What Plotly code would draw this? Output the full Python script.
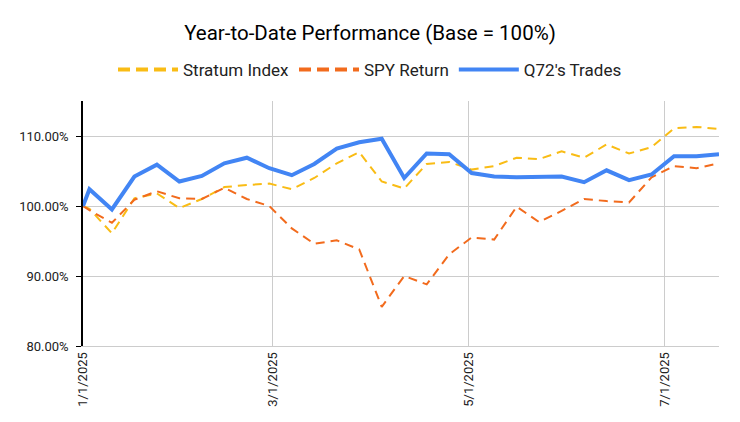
import plotly.graph_objects as go

dates = ["2025-01-01", "2025-01-03", "2025-01-10", "2025-01-17", "2025-01-24", "2025-01-31",
         "2025-02-07", "2025-02-14", "2025-02-21", "2025-02-28", "2025-03-07", "2025-03-14",
         "2025-03-21", "2025-03-28", "2025-04-04", "2025-04-11", "2025-04-18", "2025-04-25",
         "2025-05-02", "2025-05-09", "2025-05-16", "2025-05-23", "2025-05-30", "2025-06-06",
         "2025-06-13", "2025-06-20", "2025-06-27", "2025-07-04", "2025-07-11", "2025-07-18"]

stratum_index = [100.0, 99.6, 96.1, 101.1, 101.8, 99.7, 101.0, 102.7, 103.0, 103.2,
                 102.4, 104.0, 106.1, 107.7, 103.5, 102.5, 106.0, 106.3, 105.2, 105.7,
                 106.9, 106.7, 107.8, 106.9, 108.8, 107.5, 108.4, 111.1, 111.3, 111.0]

spy_return = [100.0, 99.4, 97.6, 100.9, 102.1, 101.1, 101.0, 102.6, 101.0, 100.0,
              96.8, 94.6, 95.1, 93.8, 85.6, 90.0, 88.8, 93.1, 95.5, 95.2,
              99.9, 97.7, 99.3, 101.0, 100.7, 100.5, 104.1, 105.7, 105.4, 106.1]

q72_trades = [100.0, 102.4, 99.5, 104.2, 105.9, 103.5, 104.3, 106.1, 106.9, 105.4,
              104.4, 106.0, 108.2, 109.1, 109.6, 104.0, 107.5, 107.4, 104.7, 104.2,
              104.1, 104.2, 104.2, 103.4, 105.1, 103.7, 104.5, 107.1, 107.1, 107.4]

series_names = ["Stratum Index", "SPY Return", "Q72's Trades"]
y_ticks = [80, 90, 100, 110]
y_tick_labels = ["80.00%", "90.00%", "100.00%", "110.00%"]
x_ticks = ["2025-01-01", "2025-03-01", "2025-05-01", "2025-07-01"]
x_tick_labels = ["1/1/2025", "3/1/2025", "5/1/2025", "7/1/2025"]

FONT = "Roboto, Arial, sans-serif"
YELLOW = "#F9BC15"
ORANGE = "#F26B1D"
BLUE = "#4285F4"

fig = go.Figure()
# data lines
fig.add_trace(go.Scatter(x=dates, y=stratum_index, name=series_names[0], mode="lines",
                         showlegend=False,
                         line=dict(color=YELLOW, width=2, dash="9px,6px")))
fig.add_trace(go.Scatter(x=dates, y=spy_return, name=series_names[1], mode="lines",
                         showlegend=False,
                         line=dict(color=ORANGE, width=2, dash="9px,6px")))
fig.add_trace(go.Scatter(x=dates, y=q72_trades, name=series_names[2], mode="lines",
                         showlegend=False,
                         line=dict(color=BLUE, width=4)))
# legend entries (thicker key strokes, as in the reference)
fig.add_trace(go.Scatter(x=[None], y=[None], name=series_names[0], mode="lines",
                         line=dict(color=YELLOW, width=4, dash="12px,6px")))
fig.add_trace(go.Scatter(x=[None], y=[None], name=series_names[1], mode="lines",
                         line=dict(color=ORANGE, width=4, dash="12px,6px")))
fig.add_trace(go.Scatter(x=[None], y=[None], name=series_names[2], mode="lines",
                         line=dict(color=BLUE, width=4)))

# the page adds an 8px body margin, so margins are offset by 8px
fig.update_layout(
    width=740, height=422,
    margin=dict(l=75, r=29, t=93, b=84),
    paper_bgcolor="white", plot_bgcolor="white",
    title=dict(text="Year-to-Date Performance (Base = 100%)", x=(370 - 8) / 740, xanchor="center",
               y=1 - 25 / 422, yanchor="middle", yref="container",
               font=dict(family=FONT, size=20.5, color="#000000")),
    legend=dict(orientation="h", x=(370 - 8 - 75) / 636, xanchor="center", y=1.127, yanchor="middle",
                font=dict(family=FONT, size=17, color="#222222"), itemwidth=60,
                bgcolor="rgba(0,0,0,0)"),
    xaxis=dict(range=["2025-01-01", "2025-07-18"], tickvals=x_ticks, ticktext=x_tick_labels,
               tickangle=-90, showgrid=True, gridcolor="#CCCCCC", gridwidth=1,
               showline=True, linecolor="#CCCCCC", linewidth=1, zeroline=False,
               ticks="", tickfont=dict(family=FONT, size=13, color="#222222")),
    yaxis=dict(range=[80, 115], tickvals=y_ticks, ticktext=y_tick_labels,
               showgrid=True, gridcolor="#CCCCCC", gridwidth=1,
               showline=True, linecolor="#000000", linewidth=1.5, zeroline=False,
               ticks="outside", ticklen=5, tickcolor="#000000", tickwidth=1,
               ticklabelstandoff=5,
               tickfont=dict(family=FONT, size=13, color="#222222")),
)

fig.write_html("out.html")
